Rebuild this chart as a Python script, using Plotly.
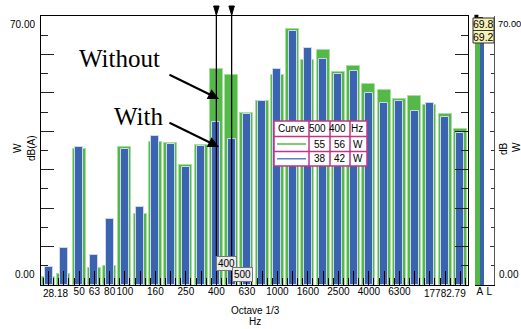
import plotly.graph_objects as go

# ---------------- data ----------------
bands = [31.5, 40, 50, 63, 80, 100, 125, 160, 200, 250, 315, 400, 500, 630, 800,
         1000, 1250, 1600, 2000, 2500, 3150, 4000, 5000, 6300, 8000, 10000, 12500, 16000]
without_db = [2.0, 2.9, 35.5, 4.3, 5.0, 35.8, 18.5, 37.2, 37.0, 31.3, 36.5, 56.1, 54.6, 44.7,
              48.0, 54.6, 66.5, 58.5, 61.1, 55.5, 57.0, 52.2, 50.7, 48.3, 49.2, 46.9, 44.6, 40.5]
with_db = [4.8, 9.5, 35.8, 7.8, 17.2, 35.4, 20.4, 38.9, 36.7, 30.8, 36.1, 42.3, 37.9, 44.6,
           48.0, 56.1, 66.0, 61.8, 58.7, 55.0, 55.6, 50.0, 47.3, 47.8, 45.2, 47.3, 43.7, 39.6]
labeled_bands = [50, 63, 80, 100, 160, 250, 400, 630, 1000, 1600, 2500, 4000, 6300]
edge_labels = ["28.18", "17782.79"]
total_cats = ["A", "L"]
total_without = [69.8]
total_with = [69.2]
cursor_bands = [400, 500]

GREEN = "#54b948"
GREEN_EDGE = "#a6df9c"
BLUE = "#3a63b0"
BLUE_EDGE = "#cdd8f0"
MAGENTA = "#c2338c"
FONT = "Arial, Liberation Sans, sans-serif"

W, H = 521, 329
L, R, T, B = 41, 27, 16, 44
PW, PH = W - L - R, H - T - B


def px(x, y):
    return (x - L) / PW, (H - B - y) / PH


def text_at(x, y, t, xa="center", ya="middle", **kw):
    X, Y = px(x, y)
    d = dict(xref="paper", yref="paper", x=X, y=Y, text=t, showarrow=False, xanchor=xa, yanchor=ya)
    d.update(kw)
    return d


idx = list(range(len(bands)))
fig = go.Figure()
fig.add_trace(go.Bar(x=idx, y=without_db, width=0.85, marker=dict(color=GREEN, line=dict(color=GREEN_EDGE, width=1)),
                     name="Without", showlegend=False))
fig.add_trace(go.Bar(x=idx, y=with_db, width=0.52, marker=dict(color=BLUE, line=dict(color=BLUE_EDGE, width=1)),
                     name="With", showlegend=False))
fig.add_trace(go.Bar(x=[0], y=total_without, width=0.5, offset=-0.5, xaxis="x2", yaxis="y2",
                     marker=dict(color=GREEN, line=dict(width=0)), showlegend=False))
fig.add_trace(go.Bar(x=[0], y=total_with, width=0.45, offset=0.0, xaxis="x2", yaxis="y2",
                     marker=dict(color=BLUE, line=dict(width=0)), showlegend=False))
fig.add_trace(go.Scatter(x=[-0.35, 0.12], y=[total_without[0], total_with[0]], mode="markers",
                         xaxis="x2", yaxis="y2", cliponaxis=False,
                         marker=dict(symbol="square", size=4, color="black"), showlegend=False))

ticktext = [str(b) if b in labeled_bands else "" for b in bands]
minor_vals = [i + d for i in idx for d in (-1 / 3, 1 / 3)]
d_main = (468 - L) / PW
d_tot = (475 - L) / PW

fig.update_layout(
    width=W, height=H, margin=dict(l=L, r=R, t=T, b=B, autoexpand=False),
    paper_bgcolor="white", plot_bgcolor="white", barmode="overlay", bargap=0,
    font=dict(family=FONT, size=10, color="black"),
    xaxis=dict(domain=[0, d_main], range=[-0.5, len(bands) - 0.5], tickvals=idx, ticktext=ticktext,
               ticks="inside", ticklen=14, tickwidth=1.3, tickcolor="black", tickangle=0,
               ticklabelstandoff=-3,
               minor=dict(tickvals=minor_vals, ticks="inside", ticklen=7, tickwidth=1.2, tickcolor="black"),
               showline=True, linecolor="black", linewidth=1.3, mirror=True, showgrid=False, zeroline=False,
               tickfont=dict(size=10), anchor="y", automargin=False),
    yaxis=dict(domain=[0, 1], range=[0, 70], dtick=10, ticks="inside", ticklen=13, tickwidth=1.3,
               tickcolor="#222", minor=dict(dtick=5, ticks="inside", ticklen=7, tickcolor="#222"),
               showticklabels=False, showline=True, linecolor="black", linewidth=1.3, mirror="ticks",
               showgrid=False, zeroline=False, anchor="x", automargin=False),
    xaxis2=dict(domain=[d_tot, 1], range=[-0.5, 1.5], tickvals=[0, 1], ticktext=total_cats, ticks="",
                tickangle=0, ticklabelstandoff=-3, showline=True, linecolor="black", linewidth=1.3,
                showgrid=False, zeroline=False, tickfont=dict(size=10), anchor="y2", automargin=False),
    yaxis2=dict(domain=[0, 1], range=[0, 70], dtick=10, ticks="inside", ticklen=4, tickcolor="#333",
                minor=dict(dtick=5, ticks="inside", ticklen=3, tickcolor="#333"),
                showticklabels=False, showline=True, linecolor="#555", linewidth=1.3, side="right",
                showgrid=False, zeroline=False, anchor="x2", automargin=False),
)

ann = []
shapes = []
# y labels
ann.append(text_at(37, 17, "70.00", xa="right", ya="top"))
ann.append(text_at(37, 282, "0.00", xa="right", ya="bottom"))
ann.append(text_at(496.5, 17, "70.00", xa="left", ya="top", font=dict(size=9.3)))
ann.append(text_at(497, 282, "0.00", xa="left", ya="bottom"))
# axis titles
for (x, y, t) in [(17, 148, "W"), (31, 148, "dB(A)"), (503, 149, "dB"), (516, 147, "W")]:
    ann.append(text_at(x, y, t, textangle=-90))
ann.append(text_at(255, 310, "Octave 1/3"))
ann.append(text_at(255, 322, "Hz"))
# edge labels of x axis
ann.append(text_at(L, 293.5, edge_labels[0], xa="left"))
ann.append(text_at(468, 293.5, edge_labels[1], xa="right"))

# cursors
for ci_band, bot_px in zip(cursor_bands, [256, 267]):
    ci = bands.index(ci_band)
    shapes.append(dict(type="line", xref="x", yref="paper", x0=ci, x1=ci, y0=px(0, bot_px)[1], y1=px(0, 8)[1],
                       line=dict(color="black", width=1.3)))
    y_top = px(0, 6)[1]
    y_tip = px(0, 15)[1]
    shapes.append(dict(type="path", xref="x", yref="paper",
                       path=f"M {ci - 0.18},{y_top} L {ci + 0.18},{y_top} L {ci},{y_tip} Z",
                       fillcolor="black", line=dict(color="black", width=1)))
    ann.append(dict(xref="x", yref="paper", x=ci, y=px(0, bot_px)[1], xanchor="left", yanchor="top",
                    text=str(ci_band), showarrow=False, bgcolor="#ececec", bordercolor="#777",
                    borderwidth=1, borderpad=1))

# Without / With annotations
for (tx, ty, t, x0, y0, x1, y1) in [(119, 59, "Without", 168, 74, 219, 99), (138, 116, "With", 168, 122, 219, 147)]:
    ann.append(text_at(tx, ty, t, font=dict(family="Liberation Serif, Times New Roman, serif", size=25)))
    X, Y = px(x1, y1)
    ann.append(dict(xref="paper", yref="paper", x=X, y=Y, ax=x0 - x1, ay=y0 - y1, text="", showarrow=True,
                    arrowhead=2, arrowsize=1.1, arrowwidth=2, arrowcolor="black"))

# legend table
cols = [274, 309, 330, 350, 367]
rows = [121, 136.5, 151.5, 166]
x0, y0 = px(cols[0], rows[0])
x1, y1 = px(cols[-1], rows[-1])
shapes.append(dict(type="rect", xref="paper", yref="paper", x0=x0, x1=x1, y0=y1, y1=y0,
                   fillcolor="white", line=dict(color=MAGENTA, width=1.5)))
for c in cols[1:-1]:
    X = px(c, 0)[0]
    shapes.append(dict(type="line", xref="paper", yref="paper", x0=X, x1=X, y0=y1, y1=y0,
                       line=dict(color=MAGENTA, width=1.5)))
for r in rows[1:-1]:
    Y = px(0, r)[1]
    shapes.append(dict(type="line", xref="paper", yref="paper", x0=x0, x1=x1, y0=Y, y1=Y,
                       line=dict(color=MAGENTA, width=1.5)))
i500, i400 = bands.index(500), bands.index(400)
table = [["Curve", "500", "400", "Hz"],
         [None, f"{round(without_db[i500])}", f"{round(without_db[i400])}", "W"],
         [None, f"{round(with_db[i500])}", f"{round(with_db[i400])}", "W"]]
for ri, row in enumerate(table):
    yc = (rows[ri] + rows[ri + 1]) / 2
    for ci, cell in enumerate(row):
        if cell is None:
            lx0, ly = px(cols[0] + 3, yc)
            lx1, _ = px(cols[1] - 3, yc)
            shapes.append(dict(type="line", xref="paper", yref="paper", x0=lx0, x1=lx1, y0=ly, y1=ly,
                               line=dict(color=GREEN if ri == 1 else "#5b7fc4", width=1.5)))
            continue
        if ci == 0:
            ann.append(text_at((cols[0] + cols[1]) / 2, yc, cell))
        else:
            ann.append(text_at(cols[ci + 1] - 2, yc, cell, xa="right"))

# value boxes at top right
for (val, ytop, ybot) in [(total_without[0], 18, 30.5), (total_with[0], 30.5, 43)]:
    bx0, by0 = px(473, ytop)
    bx1, by1 = px(494, ybot)
    shapes.append(dict(type="rect", xref="paper", yref="paper", x0=bx0, x1=bx1, y0=by1, y1=by0,
                       fillcolor="#f6f1b4", line=dict(color="#333", width=1)))
    ann.append(text_at(483.5, (ytop + ybot) / 2, f"{val:.1f}", font=dict(size=10.5)))

fig.update_layout(annotations=ann, shapes=shapes)
fig.write_html("out.html", config={"displayModeBar": False},
               post_script="document.body.style.margin='0';document.body.style.overflow='hidden';")
